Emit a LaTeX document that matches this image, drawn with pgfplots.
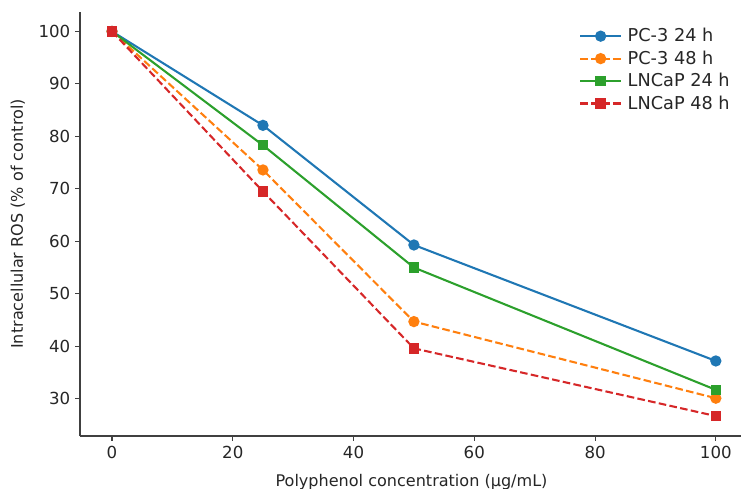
\documentclass[border=0pt]{standalone}
\usepackage{pgfplots}
\pgfplotsset{compat=1.18}
\usepackage{fontspec}
\setmainfont{DejaVu Sans}
\definecolor{tabblue}{HTML}{1F77B4}
\definecolor{taborange}{HTML}{FF7F0E}
\definecolor{tabgreen}{HTML}{2CA02C}
\definecolor{tabred}{HTML}{D62728}
\begin{document}
\begin{tikzpicture}
\useasboundingbox (0,0) rectangle (7.41in,4.89in);
\begin{axis}[
  at={(0.80in,0.53in)}, anchor=south west,
  scale only axis, width=6.63in, height=4.24in,
  xmin=-5.3, xmax=104.5, ymin=22.9, ymax=103.7,
  axis x line*=bottom, axis y line*=left,
  axis line style={-, black!75, line width=0.8pt},
  xtick={0,20,40,60,80,100}, ytick={30,40,50,60,70,80,90,100},
  tick align=outside, major tick length=3.5pt,
  tick style={black!75, line width=0.8pt},
  /pgf/number format/assume math mode=true,
  ticklabel style={font=\fontsize{12}{14}\selectfont, text=black!85},
  xlabel={Polyphenol concentration (µg/mL)},
  ylabel={Intracellular ROS (\% of control)},
  label style={font=\fontsize{11.6}{14}\selectfont, text=black!85},
  xlabel style={yshift=-4.5pt},
  ylabel style={yshift=3pt},
  legend style={draw=none, fill=white, at={(0.995,0.975)}, anchor=north east, font=\fontsize{12.8}{15}\selectfont, row sep=1pt, nodes={text=black!85, inner xsep=4pt}},
  legend cell align=left,
  legend image code/.code={\draw[mark repeat=2,mark phase=2] plot coordinates {(0cm,0cm) (0.52cm,0cm) (1.04cm,0cm)};},
]
\addplot[tabblue, line width=1.5pt, mark=*, mark size=3.3pt, mark options={solid}] coordinates {(0,100) (25,82.1) (50,59.3) (100,37.2)};
\addlegendentry{PC-3 24 h}
\addplot[taborange, line width=1.5pt, dashed, dash pattern=on 5.5pt off 2.4pt, mark=*, mark size=3.3pt, mark options={solid}] coordinates {(0,100) (25,73.6) (50,44.7) (100,30.1)};
\addlegendentry{PC-3 48 h}
\addplot[tabgreen, line width=1.5pt, mark=square*, mark size=3pt, mark options={solid}] coordinates {(0,100) (25,78.3) (50,55.0) (100,31.7)};
\addlegendentry{LNCaP 24 h}
\addplot[tabred, line width=1.5pt, dashed, dash pattern=on 5.5pt off 2.4pt, mark=square*, mark size=3pt, mark options={solid}] coordinates {(0,100) (25,69.5) (50,39.6) (100,26.7)};
\addlegendentry{LNCaP 48 h}
\end{axis}
\end{tikzpicture}
\end{document}
